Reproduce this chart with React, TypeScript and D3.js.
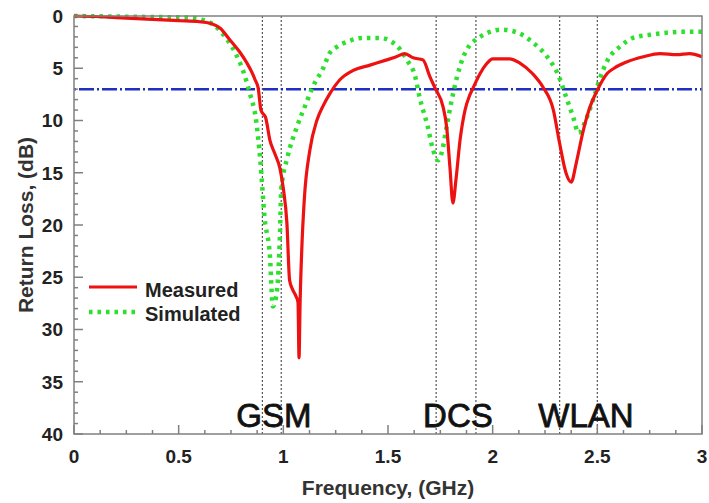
import React, { useEffect, useRef } from 'react';
import * as d3 from 'd3';

// Measured return loss (GHz, dB)
const measuredFreq = [0, 0.1, 0.2, 0.3, 0.4, 0.5, 0.6, 0.65, 0.7, 0.745, 0.79, 0.826, 0.85, 0.865, 0.88, 0.893, 0.905, 0.915, 0.936, 0.96, 0.984, 1.0, 1.017, 1.03, 1.045, 1.06, 1.07, 1.075, 1.08, 1.088, 1.1, 1.127, 1.16, 1.19, 1.223, 1.27, 1.334, 1.414, 1.494, 1.54, 1.58, 1.62, 1.667, 1.7, 1.725, 1.763, 1.78, 1.796, 1.81, 1.825, 1.844, 1.868, 1.89, 1.906, 1.94, 1.97, 2.0, 2.08, 2.13, 2.19, 2.24, 2.29, 2.32, 2.35, 2.375, 2.4, 2.43, 2.46, 2.5, 2.547, 2.58, 2.64, 2.72, 2.8, 2.88, 2.94, 3.0];
const measuredDb = [0, 0.05, 0.15, 0.25, 0.35, 0.45, 0.55, 0.7, 1.2, 2.3, 3.4, 4.5, 5.4, 6.1, 6.9, 9.0, 9.4, 9.7, 11.9, 13.2, 14.6, 16.5, 19.8, 25.3, 26.2, 26.8, 27.4, 32.7, 27.5, 22.4, 17.6, 12.8, 10.0, 8.6, 7.4, 6.1, 5.2, 4.7, 4.2, 3.9, 3.6, 4.0, 4.2, 5.8, 6.9, 8.7, 10.6, 14.5, 17.9, 15.6, 11.9, 9.0, 7.6, 6.9, 5.5, 4.6, 4.1, 4.1, 4.5, 5.5, 6.8, 9.0, 12.2, 15.0, 15.9, 14.0, 11.2, 9.0, 7.1, 5.5, 5.0, 4.4, 3.9, 3.6, 3.7, 3.6, 3.9];

// Simulated return loss (GHz, dB)
const simulatedFreq = [0, 0.2, 0.4, 0.55, 0.62, 0.67, 0.71, 0.74, 0.77, 0.817, 0.84, 0.87, 0.89, 0.91, 0.936, 0.95, 0.97, 0.984, 0.99, 1.02, 1.065, 1.11, 1.14, 1.19, 1.22, 1.26, 1.3, 1.38, 1.46, 1.54, 1.59, 1.63, 1.65, 1.69, 1.715, 1.74, 1.76, 1.78, 1.805, 1.83, 1.86, 1.89, 1.925, 1.99, 2.04, 2.12, 2.19, 2.26, 2.31, 2.35, 2.385, 2.41, 2.45, 2.48, 2.51, 2.55, 2.61, 2.67, 2.75, 2.83, 2.91, 3.0];
const simulatedDb = [0, 0.05, 0.1, 0.15, 0.4, 0.9, 1.7, 2.5, 3.5, 5.8, 7.4, 10.0, 13.8, 19.2, 23.0, 27.8, 26.2, 20.8, 16.6, 13.5, 10.6, 8.3, 6.8, 5.0, 3.6, 2.9, 2.5, 2.1, 2.1, 2.8, 4.2, 5.8, 7.7, 10.6, 12.8, 13.8, 12.8, 10.6, 8.0, 5.8, 3.9, 2.8, 2.2, 1.5, 1.3, 1.6, 2.5, 3.9, 5.5, 7.7, 9.7, 11.2, 9.7, 8.0, 6.1, 4.2, 2.9, 2.1, 1.8, 1.6, 1.5, 1.5];

// Band edges and labels
const bandEdges = [0.9, 0.99, 1.73, 1.92, 2.32, 2.5];
const bandNames = ['GSM', 'DCS', 'WLAN'];
const bandLabelFreq = [0.955, 1.834, 2.446];
const thresholdDb = 7;

const xTicks = [0, 0.5, 1, 1.5, 2, 2.5, 3];
const xTickLabels = ['0', '0.5', '1', '1.5', '2', '2.5', '3'];
const yTicks = [0, 5, 10, 15, 20, 25, 30, 35, 40];

const font = '"Liberation Sans", Arial, sans-serif';

export default function App() {
  const ref = useRef<SVGSVGElement>(null);

  useEffect(() => {
    const svg = d3.select(ref.current);
    svg.selectAll('*').remove();

    const left = 74, right = 702, top = 16, bottom = 434;
    const x = d3.scaleLinear().domain([0, 3]).range([left, right]);
    const y = d3.scaleLinear().domain([0, 40]).range([top, bottom]);
    const axisColor = '#808080';

    // Band dotted lines
    svg.append('g')
      .selectAll('line')
      .data(bandEdges)
      .enter()
      .append('line')
      .attr('x1', d => x(d))
      .attr('x2', d => x(d))
      .attr('y1', y(0))
      .attr('y2', y(40))
      .style('stroke', '#555')
      .style('stroke-width', 1.2)
      .style('stroke-dasharray', '2 2');

    // Threshold line
    svg.append('line')
      .attr('x1', x(0))
      .attr('x2', x(3))
      .attr('y1', y(thresholdDb))
      .attr('y2', y(thresholdDb))
      .style('stroke', '#1f2fc0')
      .style('stroke-width', 2.5)
      .style('stroke-dasharray', '2 3 15 3');

    // Band labels
    svg.append('g')
      .selectAll('text')
      .data(bandNames)
      .enter()
      .append('text')
      .text(d => d)
      .attr('x', (d, i) => x(bandLabelFreq[i]))
      .attr('y', 427)
      .attr('text-anchor', 'middle')
      .attr('font-family', font)
      .attr('font-size', '33px')
      .attr('fill', '#111')
      .style('stroke', '#111')
      .style('stroke-width', 0.8);

    // Curves
    const line = d3.line<[number, number]>()
      .x(d => x(d[0]))
      .y(d => y(d[1]))
      .curve(d3.curveMonotoneX);

    const simPts = simulatedFreq.map((f, i) => [f, simulatedDb[i]] as [number, number]);
    const measPts = measuredFreq.map((f, i) => [f, measuredDb[i]] as [number, number]);

    svg.append('path')
      .attr('d', line(simPts))
      .style('fill', 'none')
      .style('stroke', '#2ee02e')
      .style('stroke-width', 4.5)
      .style('stroke-dasharray', '3.5 5');

    svg.append('path')
      .attr('d', line(measPts))
      .style('fill', 'none')
      .style('stroke', '#ee1111')
      .style('stroke-width', 3.2)
      .style('stroke-linejoin', 'round');

    // Frame
    svg.append('rect')
      .attr('x', left)
      .attr('y', top)
      .attr('width', right - left)
      .attr('height', bottom - top)
      .style('fill', 'none')
      .style('stroke', axisColor)
      .style('stroke-width', 1.5);

    // Minor and major ticks
    const xMinor = d3.range(0, 3.001, 0.125);
    svg.append('g')
      .selectAll('line')
      .data(xMinor)
      .enter()
      .append('line')
      .attr('x1', d => x(d))
      .attr('x2', d => x(d))
      .attr('y1', y(40))
      .attr('y2', d => y(40) - (Math.abs(d * 2 - Math.round(d * 2)) < 1e-6 ? 9 : 4))
      .style('stroke', axisColor)
      .style('stroke-width', 1.5);

    const yMinor = d3.range(0, 40.001, 1);
    svg.append('g')
      .selectAll('line')
      .data(yMinor)
      .enter()
      .append('line')
      .attr('x1', x(0))
      .attr('x2', d => x(0) + (d % 5 === 0 ? 9 : 4))
      .attr('y1', d => y(d))
      .attr('y2', d => y(d))
      .style('stroke', axisColor)
      .style('stroke-width', 1.5);

    // Tick labels
    svg.append('g')
      .selectAll('text')
      .data(xTicks)
      .enter()
      .append('text')
      .text((d, i) => xTickLabels[i])
      .attr('x', d => x(d))
      .attr('y', 463)
      .attr('text-anchor', 'middle')
      .attr('font-family', font)
      .attr('font-weight', 'bold')
      .attr('font-size', '19px')
      .attr('fill', '#222');

    svg.append('g')
      .selectAll('text')
      .data(yTicks)
      .enter()
      .append('text')
      .text(d => String(d))
      .attr('x', 63)
      .attr('y', d => y(d))
      .attr('dy', '0.36em')
      .attr('text-anchor', 'end')
      .attr('font-family', font)
      .attr('font-weight', 'bold')
      .attr('font-size', '19px')
      .attr('fill', '#222');

    // Axis titles
    svg.append('text')
      .text('Frequency, (GHz)')
      .attr('x', 388)
      .attr('y', 495)
      .attr('text-anchor', 'middle')
      .attr('font-family', font)
      .attr('font-weight', 'bold')
      .attr('font-size', '21px')
      .attr('fill', '#333');

    svg.append('text')
      .text('Return Loss, (dB)')
      .attr('transform', 'translate(33, 225) rotate(-90)')
      .attr('text-anchor', 'middle')
      .attr('font-family', font)
      .attr('font-weight', 'bold')
      .attr('font-size', '21px')
      .attr('fill', '#333');

    // Legend
    const legend = svg.append('g');
    legend.append('line')
      .attr('x1', 89).attr('x2', 137).attr('y1', 287).attr('y2', 287)
      .style('stroke', '#ee1111')
      .style('stroke-width', 3.2);
    legend.append('line')
      .attr('x1', 89).attr('x2', 137).attr('y1', 312).attr('y2', 312)
      .style('stroke', '#2ee02e')
      .style('stroke-width', 4.5)
      .style('stroke-dasharray', '3.5 5');
    legend.append('text')
      .text('Measured')
      .attr('x', 145).attr('y', 297)
      .attr('font-family', font)
      .attr('font-weight', 'bold')
      .attr('font-size', '20px')
      .attr('fill', '#222');
    legend.append('text')
      .text('Simulated')
      .attr('x', 145).attr('y', 321)
      .attr('font-family', font)
      .attr('font-weight', 'bold')
      .attr('font-size', '20px')
      .attr('fill', '#222');
  }, []);

  return (
    <svg
      ref={ref}
      width={709}
      height={503}
      style={{ position: 'absolute', left: 0, top: 0, background: '#fff' }}
    />
  );
}
